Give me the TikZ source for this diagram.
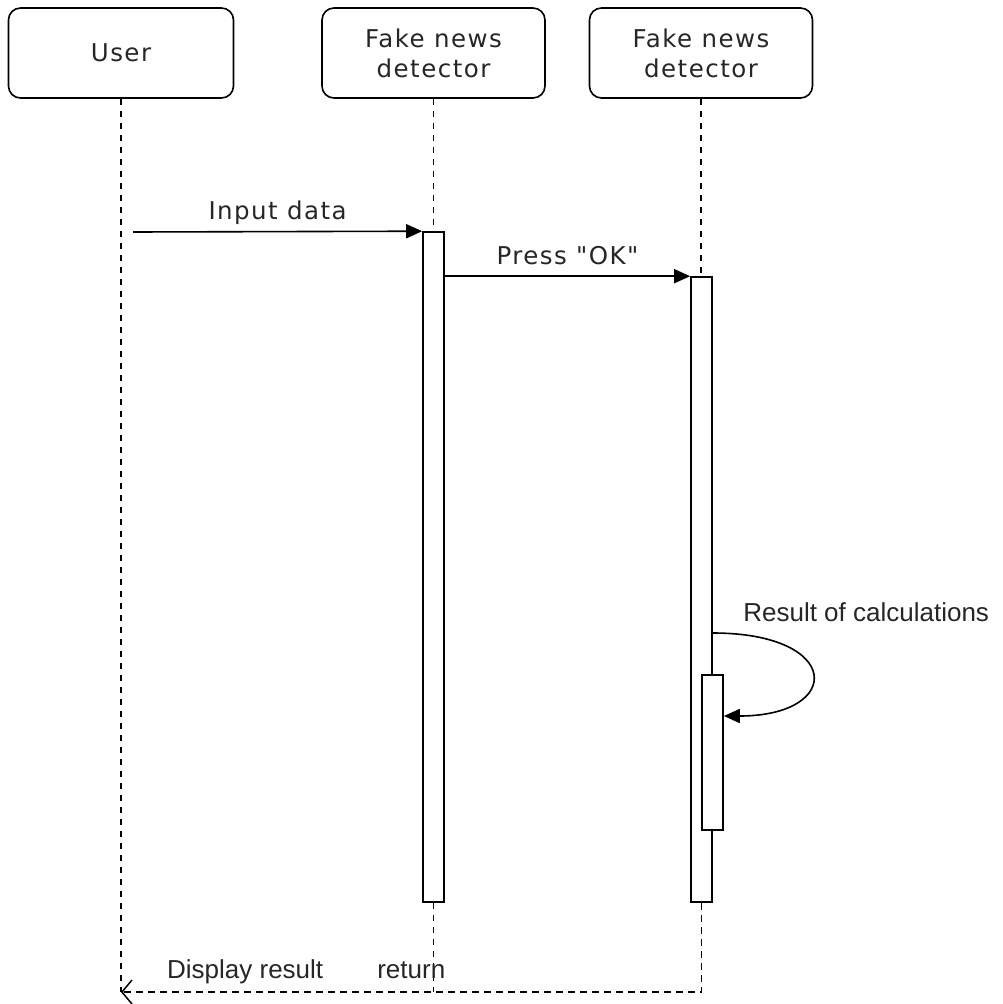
\documentclass[tikz,border=0pt]{standalone}
\usepackage{fontspec}
\setmainfont{DejaVu Sans}[LetterSpace=6, Ligatures=TeXOff]
\newfontfamily\arialfont{Liberation Sans}
\usetikzlibrary{arrows.meta}
\newcommand{\widthhead}{223pt}
\newcommand{\widthbar}{21pt}
\tikzset{
    common/.style={draw, line width=1.6pt},
    head/.style={common, rounded corners=12pt, minimum width=\widthhead, minimum height=90pt, align=center, text=black!85, font=\fontsize{24.5}{30}\selectfont},
    bar/.style={common, fill=white, minimum width=\widthbar, inner sep=0pt},
    lifeline/.style={line width=1.1pt, dash pattern=on 6pt off 6pt},
    msg/.style={line width=1.6pt, -{Triangle[length=16pt, width=14pt]}},
    ret/.style={line width=1.5pt, dash pattern=on 7pt off 5pt, -{Straight Barb[length=10pt, width=24pt]}},
    lbl/.style={anchor=base, yshift=12pt, text=black!85, font=\fontsize{24.5}{28}\selectfont},
    note/.style={text=black!85, font=\arialfont\fontsize{26}{30}\selectfont}
}

\begin{document}
\begin{tikzpicture}[x=1pt, y=-1pt]
    \useasboundingbox (0,0) rectangle (1003,1004);

    \node[head, minimum width=225pt] (user) at (121,53) {User};
    \node[head] (fnd1) at (433.5,53) {Fake news\\detector};
    \node[head] (fnd2) at (701,53) {Fake news\\detector};

    \coordinate (userend) at (121,992);
    \coordinate (fnd1end) at (433.5,992);
    \coordinate (userin) at (133,232);

    % lifelines
    \draw[lifeline] (user) -- (userend);
    \draw[lifeline] (fnd1) -- (fnd1end);
    \draw[lifeline] (fnd2) -- (701,277);

    % activations
    \node[bar, minimum height=670pt] (act1) at (433.5,567) {};
    \node[bar, minimum height=625pt] (act2) at (701.5,589.5) {};
    \node[bar, minimum height=155pt] (act3) at (712.5,752.5) {};

    \coordinate (calcout) at ([yshift=-43.5pt]act2.east);
    \coordinate (calcin) at ([yshift=36.5pt]act3.east);

    \draw[msg] (userin) -- node[lbl] {Input data} (act1.north west);
    \draw[msg] (act1.east |- act2.north west) -- node[lbl] {Press "OK"} (act2.north west);
    \draw[msg] (calcout) .. controls +(130,0) and +(120,0) .. (calcin);
    \node[note, anchor=south west, xshift=27pt, yshift=8pt] (calc) at (calcout) {Result of calculations};

    \draw[ret] (act2.south) |- node[pos=0.75, anchor=base, yshift=14pt, note] {return}
        node[pos=0.893, anchor=base, yshift=14pt, note] {Display result} (userend);
\end{tikzpicture}
\end{document}
